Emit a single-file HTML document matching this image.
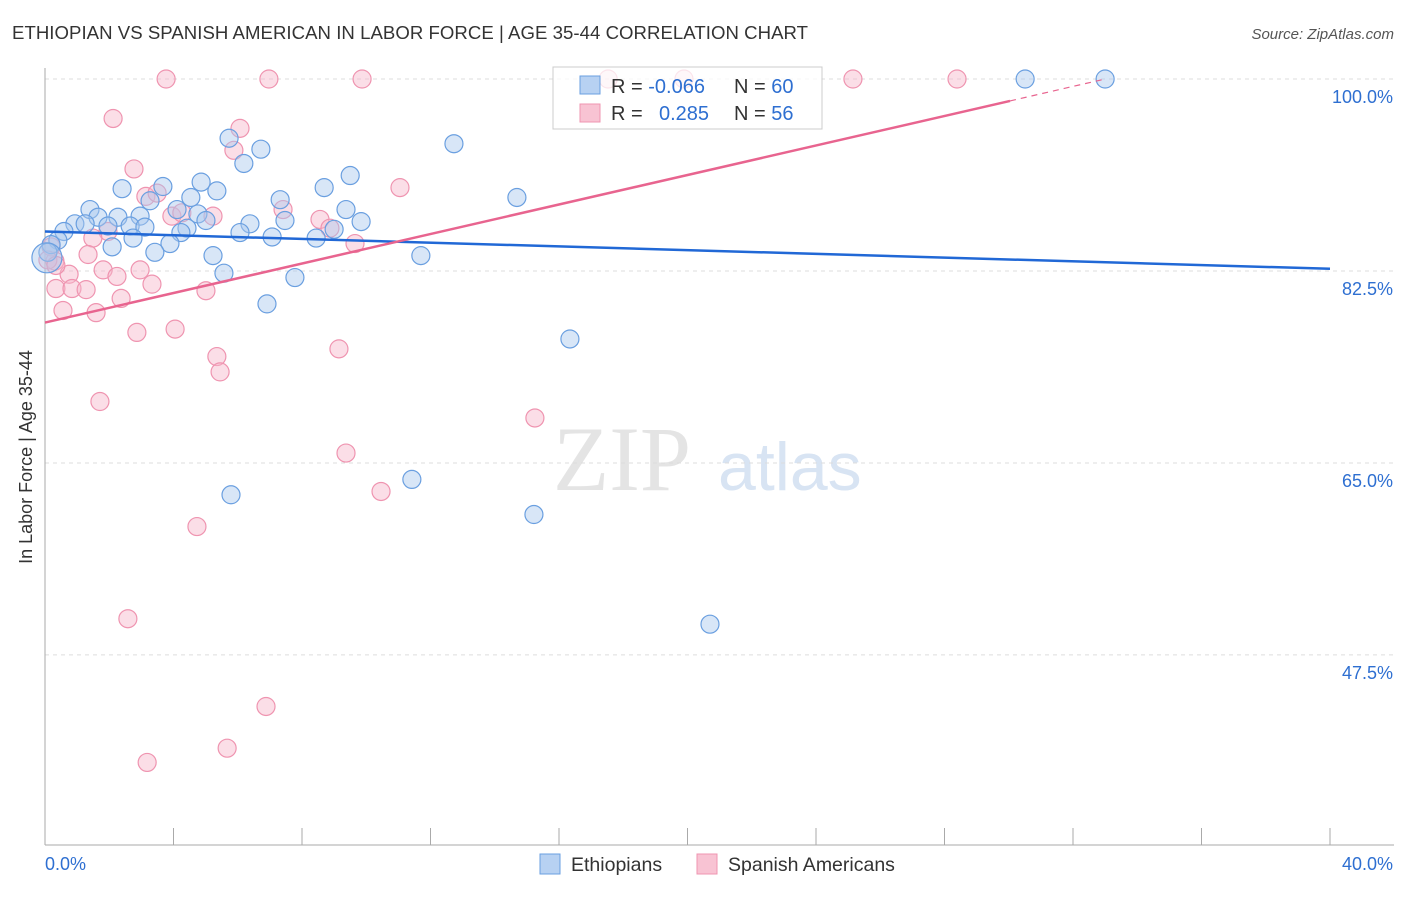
<!DOCTYPE html>
<html><head><meta charset="utf-8"><style>
body{margin:0;background:#fff;font-family:"Liberation Sans",sans-serif}
</style></head><body>
<svg id="chart" width="1406" height="892" xmlns="http://www.w3.org/2000/svg">
<text x="12" y="39" font-size="18.6" fill="#333" textLength="796">ETHIOPIAN VS SPANISH AMERICAN IN LABOR FORCE | AGE 35-44 CORRELATION CHART</text>
<text x="1394" y="39" font-size="15" fill="#555" text-anchor="end" font-style="italic">Source: ZipAtlas.com</text>
<text x="32" y="457" font-size="18" fill="#333" text-anchor="middle" transform="rotate(-90 32 457)">In Labor Force | Age 35-44</text>
<text x="553" y="490" font-size="92" fill="#e4e4e4" font-family="Liberation Serif,serif">ZIP</text>
<text x="718" y="490" font-size="68" fill="#d8e4f3">atlas</text>
<g id="grid"></g><g id="pts"></g><g id="lines"></g>
<g>
<rect x="553" y="67" width="269" height="62" fill="#fff" fill-opacity="0.75" stroke="#ccc"/>
<rect x="580" y="76" width="20" height="18" fill="#b7d1f2" stroke="#6a9fe0"/>
<rect x="580" y="104" width="20" height="18" fill="#f8c3d3" stroke="#ef94b0"/>
<text x="611" y="93" font-size="20" fill="#333">R = <tspan fill="#2e6fd1">-0.066</tspan></text>
<text x="734" y="93" font-size="20" fill="#333">N = <tspan fill="#2e6fd1">60</tspan></text>
<text x="611" y="120" font-size="20" fill="#333">R = <tspan fill="#2e6fd1" x="659">0.285</tspan></text>
<text x="734" y="120" font-size="20" fill="#333">N = <tspan fill="#2e6fd1">56</tspan></text>
</g>
<g>
<rect x="540" y="854" width="20" height="20" fill="#b7d1f2" stroke="#6a9fe0"/>
<text x="571" y="871" font-size="19.5" fill="#333">Ethiopians</text>
<rect x="697" y="854" width="20" height="20" fill="#f8c3d3" stroke="#ef94b0"/>
<text x="728" y="871" font-size="19.5" fill="#333">Spanish Americans</text>
</g>
</svg>
<script>
const blueX=[30.51,33.0,5.73,12.73,6.72,6.19,9.5,4.86,2.4,3.67,5.35,8.69,4.54,7.32,14.69,3.27,1.40,4.11,9.37,4.76,1.65,2.27,2.96,5.01,0.93,7.47,9.84,6.38,1.25,1.96,2.65,3.11,4.42,0.59,6.07,4.23,2.74,7.07,8.44,9.0,0.40,3.89,0.19,2.09,3.42,5.23,11.7,5.57,7.78,6.91,0.09,16.34,11.42,5.79,15.22,20.7,0.06];
const blueY=[100,100,94.6,94.1,93.6,92.3,91.2,90.6,90.0,90.2,89.8,90.1,89.2,89.0,89.2,88.9,88.1,88.1,88.1,87.7,87.4,87.4,87.5,87.1,86.8,87.1,87.0,86.8,86.8,86.6,86.6,86.5,86.4,86.1,86.0,86.0,85.5,85.6,85.5,86.3,85.3,85.0,84.9,84.7,84.2,83.9,83.9,82.3,81.9,79.5,84.2,76.3,63.5,62.1,60.3,50.3,83.7];
const pinkX=[3.77,6.97,9.87,17.53,19.89,25.15,28.39,2.12,6.07,5.88,2.77,11.05,3.14,3.49,7.41,3.95,5.23,8.56,4.26,1.96,8.87,1.49,9.65,0.19,1.34,0.31,2.96,1.81,0.75,2.24,0.34,0.84,1.28,3.33,5.01,2.37,0.56,1.59,2.86,4.05,9.15,5.35,5.45,1.71,15.25,9.37,10.46,4.73,2.58,6.88,5.67,3.18,0.09,0.34];
const pinkY=[100,100,100,100,100,100,100,96.4,95.5,93.5,91.8,90.1,89.3,89.6,88.1,87.5,87.5,87.2,87.8,86.1,86.4,85.5,85.0,84.7,84.0,83.4,82.6,82.6,82.2,82.0,80.9,80.9,80.8,81.3,80.7,80.0,78.9,78.7,76.9,77.2,75.4,74.7,73.3,70.6,69.1,65.9,62.4,59.2,50.8,42.8,39.0,37.7,83.5,83.0];
const blueTrend=[86.1,82.7];
const pinkTrend=[77.8,98.0,100];
const pinkTrendX=[0,30.04,33.0];
const yTicks=[100,82.5,65,47.5];
const yTickLabels=["100.0%","82.5%","65.0%","47.5%"];
const xTickLabels=["0.0%","40.0%"];
const NS="http://www.w3.org/2000/svg";
const sx=v=>45+v/40*1285, sy=v=>79+(100-v)*10.97;
function mk(t,a,p){const e=document.createElementNS(NS,t);for(const k in a)e.setAttribute(k,a[k]);p.appendChild(e);return e;}
const grid=document.getElementById('grid'),pts=document.getElementById('pts'),lines=document.getElementById('lines');
yTicks.forEach((v,i)=>{
 const l=mk('line',{x1:45,x2:1394,y1:sy(v),y2:sy(v),stroke:'#ddd','stroke-dasharray':'4 4'},grid);
 
 
 const t=mk('text',{x:1393,y:sy(v)+24,'font-size':18,fill:'#2e6fd1','text-anchor':'end'},grid);
 t.textContent=yTickLabels[i];
 
 
});
mk('line',{x1:45,x2:45,y1:68,y2:845,stroke:'#aaa'},grid);
mk('line',{x1:45,x2:1394,y1:845,y2:845,stroke:'#aaa'},grid);
for(let i=0;i<=10;i++){const tk=mk('line',{x1:sx(i*4),x2:sx(i*4),y1:828,y2:845,stroke:'#aaa'},grid);
 
 }
[[0,'start',45],[40,'end',1393]].forEach((d,i)=>{const t=mk('text',{x:d[2],y:870,'font-size':18,fill:'#2e6fd1','text-anchor':d[1]},grid);t.textContent=xTickLabels[i];
 
 });
function dots(X,Y,fill,stroke,name){X.forEach((x,i)=>{const r=(i==X.length-1&&name=='ethiopian-point')?15:9;
 const c=mk('circle',{cx:sx(x),cy:sy(Y[i]),r:r,fill:fill,'fill-opacity':0.45,stroke:stroke,'stroke-width':1.2},pts);
 
 });}
dots(pinkX,pinkY,'#f6b6c9','#ef94b0','spanish-american-point');
dots(blueX,blueY,'#a9c8ee','#6a9fe0','ethiopian-point');
const bl=mk('line',{x1:sx(0),y1:sy(blueTrend[0]),x2:sx(40),y2:sy(blueTrend[1]),stroke:'#2168d6','stroke-width':2.5},lines);


const pl=mk('line',{x1:sx(pinkTrendX[0]),y1:sy(pinkTrend[0]),x2:sx(pinkTrendX[1]),y2:sy(pinkTrend[1]),stroke:'#e8648f','stroke-width':2.5},lines);


const pd=mk('line',{x1:sx(pinkTrendX[1]),y1:sy(pinkTrend[1]),x2:sx(pinkTrendX[2]),y2:sy(pinkTrend[2]),stroke:'#e8648f','stroke-width':1.2,'stroke-dasharray':'6 5'},lines);


</script>
</body></html>
